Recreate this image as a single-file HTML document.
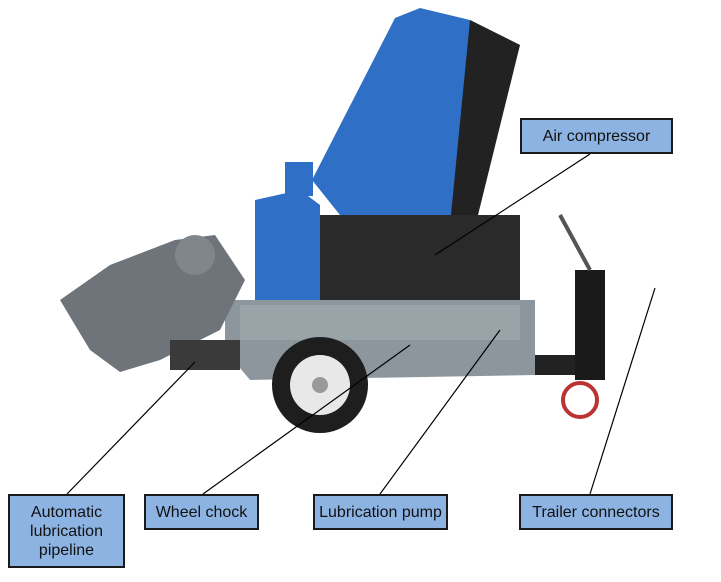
<!DOCTYPE html>
<html><head><meta charset="utf-8"><style>
body{margin:0;background:#fff;width:721px;height:582px;overflow:hidden;position:relative;font-family:"Liberation Sans",Arial,sans-serif}
.b{position:absolute;background:#8db3e2;border:2px solid #1a1a1a;box-sizing:border-box;font-size:16px;color:#111;text-align:center;display:flex;align-items:center;justify-content:center;line-height:19px}
svg{position:absolute;left:0;top:0}
</style></head><body>
<svg width="721" height="582" viewBox="0 0 721 582">
<polygon points="312,180 395,18 420,8 470,20 520,45 470,200 440,225 340,215" fill="#2f6fc6"/>
<polygon points="470,20 520,45 478,215 450,225" fill="#222"/>
<rect x="320" y="215" width="200" height="95" fill="#2a2a2a"/>
<polygon points="255,200 300,190 320,205 320,305 255,305" fill="#2f6fc6"/>
<rect x="285" y="162" width="28" height="34" fill="#2f6fc6"/>
<polygon points="225,300 535,300 535,375 250,380 225,350" fill="#8c969c"/>
<polygon points="240,305 520,305 520,340 240,340" fill="#9aa3a8"/>
<polygon points="60,300 110,265 175,240 215,235 245,280 220,330 160,360 120,372 90,350" fill="#6e7479"/>
<circle cx="195" cy="255" r="20" fill="#80878c"/>
<rect x="170" y="340" width="70" height="30" fill="#3a3a3a"/>
<circle cx="320" cy="385" r="48" fill="#1e1e1e"/>
<circle cx="320" cy="385" r="30" fill="#e8e8e8"/>
<circle cx="320" cy="385" r="8" fill="#999"/>
<rect x="535" y="355" width="50" height="20" fill="#222"/>
<rect x="575" y="270" width="30" height="110" fill="#1a1a1a"/>
<circle cx="580" cy="400" r="17" fill="none" stroke="#b33" stroke-width="4"/>
<line x1="560" y1="215" x2="590" y2="270" stroke="#555" stroke-width="4"/>
<g stroke="#000" stroke-width="1.2">
<line x1="590" y1="154" x2="435" y2="255"/>
<line x1="67" y1="494" x2="195" y2="362"/>
<line x1="203" y1="494" x2="410" y2="345"/>
<line x1="380" y1="494" x2="500" y2="330"/>
<line x1="590" y1="494" x2="655" y2="288"/>
</g>
</svg>
<div class="b" style="left:520px;top:118px;width:153px;height:36px">Air compressor</div>
<div class="b" style="left:8px;top:494px;width:117px;height:74px">Automatic<br>lubrication<br>pipeline</div>
<div class="b" style="left:144px;top:494px;width:115px;height:36px">Wheel chock</div>
<div class="b" style="left:313px;top:494px;width:135px;height:36px">Lubrication pump</div>
<div class="b" style="left:519px;top:494px;width:154px;height:36px">Trailer connectors</div>
</body></html>
